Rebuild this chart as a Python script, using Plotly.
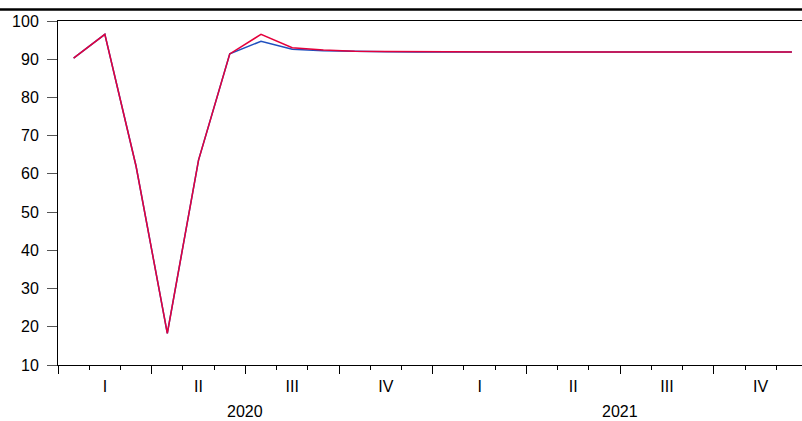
import plotly.graph_objects as go

# Monthly periods Jan 2020 .. Dec 2021
years = ["2020", "2021"]
quarters = ["I", "II", "III", "IV"]
n_months = 24

series_blue = [90.3, 96.5, 62.0, 18.3, 63.6, 91.4, 94.7, 92.6, 92.2, 92.0, 91.95, 91.9,
               91.9, 91.9, 91.9, 91.9, 91.9, 91.9, 91.9, 91.9, 91.9, 91.9, 91.9, 91.9]
series_red = [90.3, 96.5, 62.0, 18.3, 63.6, 91.4, 96.5, 93.0, 92.4, 92.1, 92.0, 91.95,
              91.9, 91.9, 91.9, 91.9, 91.9, 91.9, 91.9, 91.9, 91.9, 91.9, 91.9, 91.9]

x = [i + 0.5 for i in range(n_months)]

FONT = "Arial, Liberation Sans, sans-serif"
FS = 16
BLUE = "#1f4fbf"
RED = "#e4003c"

fig = go.Figure()
fig.add_trace(go.Scatter(x=x, y=series_blue, mode="lines",
                         line=dict(color=BLUE, width=1.5), showlegend=False))
fig.add_trace(go.Scatter(x=x, y=series_red, mode="lines",
                         line=dict(color=RED, width=1.5), showlegend=False))

# invisible trace for label axis
fig.add_trace(go.Scatter(x=[0], y=[None], xaxis="x2", showlegend=False, hoverinfo="skip"))

W, H = 802, 421
L, R, T, B = 58, 0, 21, 56
plot_w = W - L - R
plot_h = H - T - B
month_px = 31.23
x_end = plot_w / month_px

q_centers = [y * 12 + q * 3 + 1.5 for y in range(len(years)) for q in range(4)]
q_text = [quarters[q] for y in range(len(years)) for q in range(4)]

fig.update_layout(
    width=W, height=H,
    margin=dict(l=L, r=R, t=T, b=B, autoexpand=False),
    paper_bgcolor="white", plot_bgcolor="white",
    font=dict(family=FONT, size=FS, color="black"),
    xaxis=dict(
        range=[0, x_end], showgrid=False, zeroline=False, automargin=False,
        showline=True, linecolor="black", linewidth=1, mirror=True,
        tickmode="array", tickvals=list(range(0, n_months + 1, 3)),
        ticktext=[""] * 9, ticks="outside", ticklen=8, tickcolor="black", tickwidth=1,
        minor=dict(tickmode="linear", tick0=0, dtick=1, ticks="outside", ticklen=4,
                   tickcolor="black", tickwidth=1, showgrid=False),
    ),
    xaxis2=dict(
        range=[0, x_end], overlaying="x", side="bottom", anchor="y", automargin=False,
        showgrid=False, zeroline=False, showline=False,
        tickmode="array", tickvals=q_centers, ticktext=q_text,
        ticks="", tickfont=dict(family=FONT, size=FS, color="black"),
        ticklabelstandoff=10,
    ),
    yaxis=dict(
        range=[10, 100], showgrid=False, zeroline=False, automargin=False,
        showline=True, linecolor="black", linewidth=1,
        tickmode="array", tickvals=list(range(10, 101, 10)),
        ticks="outside", ticklen=10, tickcolor="#555", tickwidth=1,
        ticklabelstandoff=5,
    ),
    shapes=[dict(type="line", xref="paper", yref="paper",
                 x0=-L / plot_w, x1=1, y0=1 + 11.5 / plot_h, y1=1 + 11.5 / plot_h,
                 line=dict(color="black", width=2.5))],
)

for i, yr in enumerate(years):
    fig.add_annotation(x=i * 12 + 6, y=0, xref="x", yref="paper",
                       text=yr, showarrow=False, yshift=-48,
                       font=dict(family=FONT, size=FS, color="black"))

fig.update_annotations(yshift=-57)

fig.write_html("out.html", config={"displayModeBar": False},
               post_script="document.body.style.margin='0';")
